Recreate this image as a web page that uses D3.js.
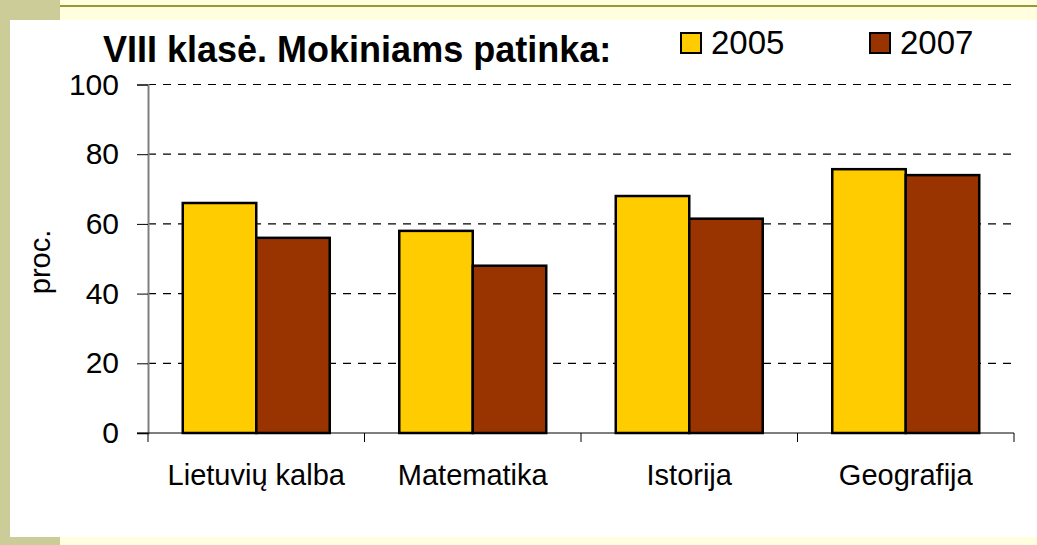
<!DOCTYPE html>
<html>
<head>
<meta charset="utf-8">
<title>VIII klasė</title>
<script src="https://d3js.org/d3.v7.min.js"></script>
<style>
  body { margin: 0; background: #ffffe0; }
  text { font-family: Arial, "Liberation Sans", sans-serif; }
</style>
</head>
<body>
<div id="chart"></div>
<script>
// data
const categories = ["Lietuvių kalba", "Matematika", "Istorija", "Geografija"];
const years = ["2005", "2007"];
const values2005 = [66, 58, 68, 75.7];
const values2007 = [56, 48, 61.5, 74];
const yTicks = [0, 20, 40, 60, 80, 100];
const colors = ["#ffcc00", "#993300"];

const W = 1037, H = 545;
const svg = d3.select("#chart").append("svg")
    .attr("width", W).attr("height", H);

// slide frame
svg.append("rect").attr("width", W).attr("height", H).attr("fill", "#ffffe0");
svg.append("rect").attr("x", 0).attr("y", 0).attr("width", 60).attr("height", 20).attr("fill", "#cccc99");
svg.append("rect").attr("x", 0).attr("y", 537).attr("width", 60).attr("height", 8).attr("fill", "#cccc99");
svg.append("rect").attr("x", 0).attr("y", 0).attr("width", 10).attr("height", H).attr("fill", "#cccc99");
svg.append("rect").attr("x", 60).attr("y", 5).attr("width", W - 60).attr("height", 2).attr("fill", "#999933");
svg.append("rect").attr("x", 10).attr("y", 20).attr("width", W - 10).attr("height", 517).attr("fill", "#ffffff");

const pLeft = 148, pRight = 1014, pTop = 84.5, pBottom = 433;

const x0 = d3.scaleBand().domain(categories).range([pLeft, pRight]);
const x1 = d3.scaleBand().domain(years).range([0, x0.bandwidth()]).paddingOuter(0.473);
const y = d3.scaleLinear().domain([0, 100]).range([pBottom, pTop]);

// dashed grid
svg.append("g").selectAll("line")
    .data(yTicks.filter(d => d > 0))
    .join("line")
    .attr("x1", pLeft).attr("x2", pRight)
    .attr("y1", d => y(d)).attr("y2", d => y(d))
    .attr("stroke", "#000").attr("stroke-width", 1.2)
    .attr("stroke-dasharray", "8,7");

// y axis
const yAxis = svg.append("g")
    .attr("transform", "translate(" + pLeft + ",0)")
    .call(d3.axisLeft(y).tickValues(yTicks).tickSize(11).tickPadding(18));
yAxis.select(".domain").attr("stroke", "#808080").attr("stroke-width", 2);
yAxis.selectAll(".tick line").attr("stroke", "#000");
yAxis.selectAll(".tick text").attr("font-size", 30).attr("fill", "#000")
    .attr("font-family", "Arial, 'Liberation Sans', sans-serif");

// bars
const rows = categories.map((c, i) => ({cat: c, vals: [values2005[i], values2007[i]]}));
svg.append("g").selectAll("g")
    .data(rows)
    .join("g")
    .attr("transform", d => "translate(" + x0(d.cat) + ",0)")
    .selectAll("rect")
    .data(d => d.vals.map((v, j) => ({year: years[j], v: v, j: j})))
    .join("rect")
    .attr("x", d => x1(d.year))
    .attr("y", d => y(d.v))
    .attr("width", x1.bandwidth())
    .attr("height", d => y(0) - y(d.v))
    .attr("fill", d => colors[d.j])
    .attr("stroke", "#000").attr("stroke-width", 2.5);

// x axis
const xAxis = svg.append("g")
    .attr("transform", "translate(0," + pBottom + ")");
xAxis.append("line").attr("x1", pLeft - 11).attr("x2", pRight)
    .attr("stroke", "#000").attr("stroke-width", 1.2);
const xEdges = categories.map(c => x0(c)).concat([pRight]);
xAxis.selectAll(".xt").data(xEdges).join("line").attr("class", "xt")
    .attr("x1", d => d).attr("x2", d => d).attr("y1", 0).attr("y2", 9)
    .attr("stroke", "#000");
xAxis.selectAll(".xl").data(categories).join("text").attr("class", "xl")
    .attr("x", d => x0(d) + x0.bandwidth() / 2)
    .attr("y", 52)
    .attr("text-anchor", "middle")
    .attr("font-size", 29)
    .text(d => d);

// axis title
svg.append("text")
    .attr("transform", "translate(50,262) rotate(-90)")
    .attr("text-anchor", "middle")
    .attr("font-size", 29)
    .text("proc.");

// chart title
svg.append("text")
    .attr("x", 103).attr("y", 62)
    .attr("font-size", 36).attr("font-weight", "bold")
    .text("VIII klasė. Mokiniams patinka:");

// legend
const legend = svg.append("g").selectAll("g")
    .data(years)
    .join("g")
    .attr("transform", (d, i) => "translate(" + [681, 870][i] + ",33)");
legend.append("rect")
    .attr("width", 20).attr("height", 20)
    .attr("fill", (d, i) => colors[i])
    .attr("stroke", "#000").attr("stroke-width", 2);
legend.append("text")
    .attr("x", 30).attr("y", 21)
    .attr("font-size", 33)
    .text(d => d);
</script>
</body>
</html>
